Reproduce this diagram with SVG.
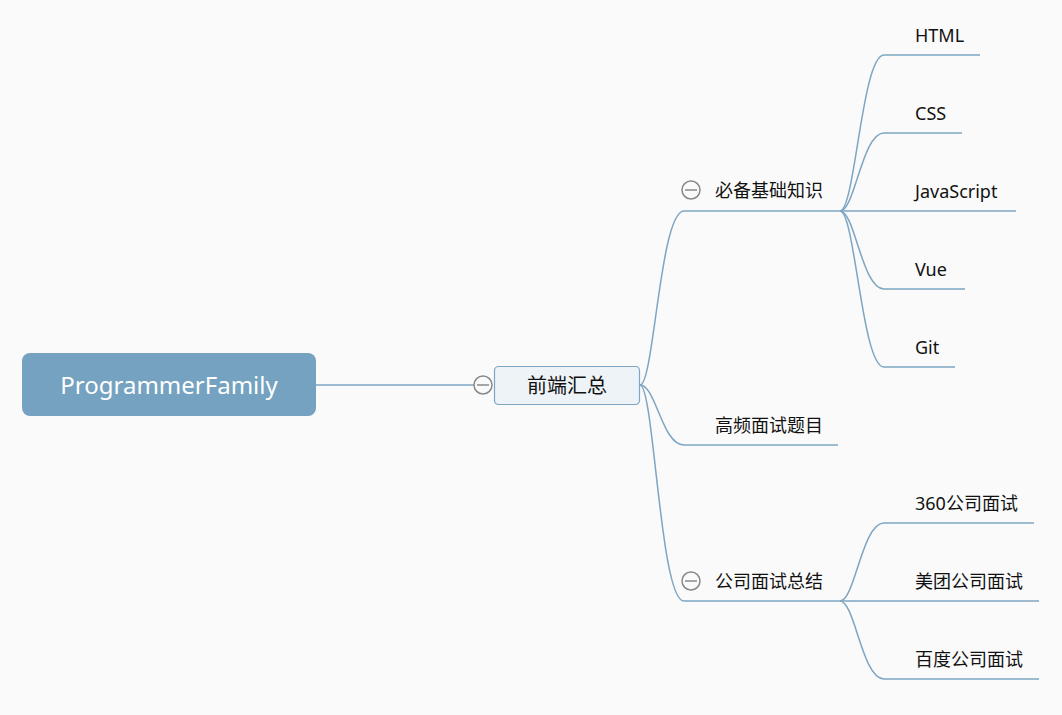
<svg xmlns="http://www.w3.org/2000/svg" width="1062" height="715" viewBox="0 0 1062 715">
<style>
.ln{fill:none;stroke:#7ea5c2;stroke-width:1.5}
.t{font-family:"Noto Sans","Noto Sans CJK SC",sans-serif;font-size:18px;fill:#111}
.big{font-size:20px}
.cz{fill:#fafafa;stroke:#888;stroke-width:1.5}
</style>
<rect width="1062" height="715" fill="#fafafa"/>
<g id="connectors">
<path class="ln" d="M316,385 L475,385"/>
<path class="ln" d="M640,385 C654,385 660,211 684,211 L840,211"/>
<path class="ln" d="M640,385 C656,385 662,445 684,445 L838,445"/>
<path class="ln" d="M640,385 C654,385 660,601 684,601 L840,601"/>
<path class="ln" d="M840,211 C855,211 862,55 884,55 L980,55"/>
<path class="ln" d="M840,211 C855,211 862,133 884,133 L962,133"/>
<path class="ln" d="M840,211 L1016,211"/>
<path class="ln" d="M840,211 C855,211 862,289 884,289 L965,289"/>
<path class="ln" d="M840,211 C855,211 862,367 884,367 L955,367"/>
<path class="ln" d="M840,601 C855,601 862,523 884,523 L1034,523"/>
<path class="ln" d="M840,601 L1039,601"/>
<path class="ln" d="M840,601 C855,601 862,679 884,679 L1039,679"/>
</g>
<g id="root">
<rect x="22" y="353" width="294" height="63" rx="8" fill="#74a2c0"/>
<text x="169" y="394" text-anchor="middle" font-family="Noto Sans,sans-serif" font-size="24" fill="#fff">ProgrammerFamily</text>
</g>
<g id="n-qdhz">
<circle class="cz" cx="483" cy="385" r="9"/>
<line x1="477" y1="385" x2="489" y2="385" stroke="#888" stroke-width="1.5"/>
<rect x="494.5" y="366.5" width="145" height="38" rx="4" fill="#eef3f7" stroke="#7ea5c2" stroke-width="1.2"/>
<text class="t big" x="567" y="393" text-anchor="middle">前端汇总</text>
</g>
<g id="n-bbjc">
<circle class="cz" cx="691" cy="190" r="9"/>
<line x1="685" y1="190" x2="697" y2="190" stroke="#888" stroke-width="1.5"/>
<text class="t" x="715" y="197">必备基础知识</text>
</g>
<g id="n-gpms"><text class="t" x="715" y="432">高频面试题目</text></g>
<g id="n-gsms">
<circle class="cz" cx="691" cy="581" r="9"/>
<line x1="685" y1="581" x2="697" y2="581" stroke="#888" stroke-width="1.5"/>
<text class="t" x="715" y="588">公司面试总结</text>
</g>
<g id="n-html"><text class="t" x="915" y="42">HTML</text></g>
<g id="n-css"><text class="t" x="915" y="120">CSS</text></g>
<g id="n-js"><text class="t" x="915" y="198">JavaScript</text></g>
<g id="n-vue"><text class="t" x="915" y="276">Vue</text></g>
<g id="n-git"><text class="t" x="915" y="354">Git</text></g>
<g id="n-360"><text class="t" x="915" y="510">360公司面试</text></g>
<g id="n-mt"><text class="t" x="915" y="588">美团公司面试</text></g>
<g id="n-bd"><text class="t" x="915" y="666">百度公司面试</text></g>
</svg>
